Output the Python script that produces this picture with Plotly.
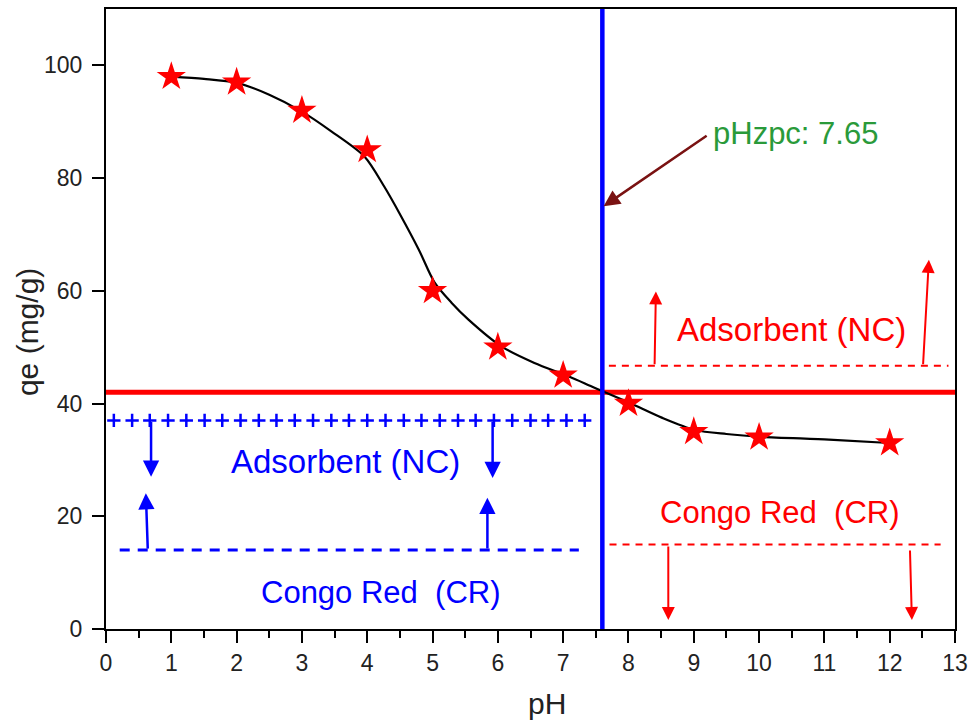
import plotly.graph_objects as go

# ---- data ----
ph = [1, 2, 3, 4, 5, 6, 7, 8, 9, 10, 12]
qe = [98, 97, 92, 85, 60, 50, 45, 40, 35, 34, 33]

fit_ph = [1.0, 1.5, 2.0, 2.5, 3.0, 3.45, 3.96, 4.26, 4.52, 4.79, 5.03, 5.29, 5.55,
          6.06, 6.56, 7.09, 7.48, 8.02, 8.51, 9.02, 9.5, 10.05, 11.07, 12.0]
fit_qe = [98.0, 97.6, 96.9, 94.8, 91.8, 88.3, 83.8, 78.5, 73.2, 67.3, 61.5, 57.9, 54.9,
          50.1, 47.2, 44.8, 42.8, 40.1, 37.5, 35.3, 34.6, 34.1, 33.6, 33.0]

ph_zpc_line = 7.6
ph_zpc_label = "pHzpc: 7.65"
qe_red_line = 42
plus_level = 37
plus_x = [0.12, 0.40, 0.67, 0.95, 1.23, 1.51, 1.78, 2.06, 2.34, 2.61, 2.89, 3.17, 3.45,
          3.72, 4.00, 4.28, 4.56, 4.83, 5.11, 5.39, 5.66, 5.94, 6.22, 6.50, 6.77, 7.05, 7.33]
blue_dash_level = 14
blue_dash_x = [0.21, 7.24]
red_dash_upper_level = 46.7
red_dash_upper_x = [7.7, 12.9]
red_dash_lower_level = 15
red_dash_lower_x = [7.71, 12.78]

x_ticks = list(range(0, 14))
y_ticks = [0, 20, 40, 60, 80, 100]

FONT = "Liberation Sans, Arial, sans-serif"
RED = "#ff0000"
BLUE = "#0000ff"
GREEN = "#2a9a3a"
MAROON = "#7a1212"

fig = go.Figure()

# fitted curve
fig.add_trace(go.Scatter(x=fit_ph, y=fit_qe, mode="lines",
                         line=dict(color="black", width=2.2, shape="spline", smoothing=0.8),
                         showlegend=False, hoverinfo="skip"))
# data stars
fig.add_trace(go.Scatter(x=ph, y=qe, mode="markers",
                         marker=dict(symbol="star", size=22, color=RED, line=dict(width=0)),
                         showlegend=False))
# plus signs
fig.add_trace(go.Scatter(x=plus_x, y=[plus_level] * len(plus_x), mode="markers",
                         marker=dict(symbol="cross-thin", size=9.5, line=dict(color=BLUE, width=2.5)),
                         showlegend=False, hoverinfo="skip"))

shapes = [
    dict(type="line", x0=0, x1=13, y0=qe_red_line, y1=qe_red_line, xref="x", yref="y",
         line=dict(color=RED, width=5), layer="below"),
    dict(type="line", x0=ph_zpc_line, x1=ph_zpc_line, y0=0, y1=110, xref="x", yref="y",
         line=dict(color=BLUE, width=4.5), layer="above"),
    dict(type="line", x0=blue_dash_x[0], x1=blue_dash_x[1], y0=blue_dash_level, y1=blue_dash_level,
         xref="x", yref="y", line=dict(color=BLUE, width=3, dash="10px,8px")),
    dict(type="line", x0=red_dash_upper_x[0], x1=red_dash_upper_x[1], y0=red_dash_upper_level,
         y1=red_dash_upper_level, xref="x", yref="y", line=dict(color=RED, width=2, dash="7px,6px")),
    dict(type="line", x0=red_dash_lower_x[0], x1=red_dash_lower_x[1], y0=red_dash_lower_level,
         y1=red_dash_lower_level, xref="x", yref="y", line=dict(color=RED, width=2, dash="7px,6px")),
]

# arrows: (tail_x, tail_y, tip_x, tip_y, color, width)
arrows = [
    (0.69, 37, 0.69, 27, BLUE, 2.5),
    (5.92, 37, 5.92, 26.8, BLUE, 2.5),
    (0.64, 14, 0.61, 24.1, BLUE, 2.5),
    (5.84, 14, 5.84, 23.3, BLUE, 2.5),
    (8.40, 46.7, 8.42, 59.9, RED, 2),
    (12.51, 46.7, 12.60, 65.5, RED, 2),
    (8.61, 14.9, 8.61, 1.6, RED, 2),
    (12.31, 14.2, 12.34, 1.6, RED, 2),
    (9.22, 87.7, 7.62, 75.0, MAROON, 2.5),
]
annotations = []
for tx, ty, hx, hy, c, w in arrows:
    annotations.append(dict(x=hx, y=hy, ax=tx, ay=ty, xref="x", yref="y", axref="x", ayref="y",
                            text="", showarrow=True, arrowhead=2, arrowsize=1.3, arrowwidth=w,
                            arrowcolor=c, standoff=0, startstandoff=0))

texts = [
    (3.67, 29.7, "Adsorbent (NC)", BLUE, "center", 33),
    (4.2, 6.4, "Congo Red \u00a0(CR)", BLUE, "center", 31),
    (10.49, 53.1, "Adsorbent (NC)", RED, "center", 33),
    (10.31, 20.6, "Congo Red \u00a0(CR)", RED, "center", 31),
    (9.27, 88.0, ph_zpc_label, GREEN, "left", 31),
]
for x, y, t, c, anc, sz in texts:
    annotations.append(dict(x=x, y=y, xref="x", yref="y", text=t, showarrow=False,
                            xanchor=anc, yanchor="middle", font=dict(family=FONT, size=sz, color=c)))

# axis titles
annotations.append(dict(x=0.52, y=-0.12, xref="paper", yref="paper", text="pH", showarrow=False,
                        xanchor="center", yanchor="middle", font=dict(family=FONT, size=30, color="#222")))
annotations.append(dict(x=-0.093, y=0.479, xref="paper", yref="paper", text="qe (mg/g)", showarrow=False,
                        textangle=-90, xanchor="center", yanchor="middle",
                        font=dict(family=FONT, size=30, color="#222")))

fig.update_layout(
    width=971, height=722,
    margin=dict(l=106, r=16, t=9, b=93, autoexpand=False),
    paper_bgcolor="white", plot_bgcolor="white",
    shapes=shapes, annotations=annotations,
    font=dict(family=FONT, color="#222"),
    xaxis=dict(range=[0, 13], tickvals=x_ticks, ticktext=[str(v) for v in x_ticks],
               automargin=False,
               showgrid=False, zeroline=False, showline=True, linecolor="black", linewidth=2,
               mirror=True, ticks="outside", ticklen=12, tickwidth=2, tickcolor="black",
               tickfont=dict(family=FONT, size=23, color="#222"),
               minor=dict(dtick=0.5, tick0=0, ticks="outside", ticklen=7, tickwidth=2, tickcolor="black")),
    yaxis=dict(range=[0, 110], tickvals=y_ticks, ticktext=[str(v) for v in y_ticks],
               automargin=False,
               showgrid=False, zeroline=False, showline=True, linecolor="black", linewidth=2,
               mirror=True, ticks="outside", ticklen=12, tickwidth=2, tickcolor="black",
               ticklabelstandoff=5,
               tickfont=dict(family=FONT, size=23, color="#222")),
)

# remove the page's default body margin so the figure fills the window exactly
fig.write_html("out.html",
               config={"displayModeBar": False},
               post_script="document.body.style.margin='0';"
                           "document.documentElement.style.overflow='hidden';")
